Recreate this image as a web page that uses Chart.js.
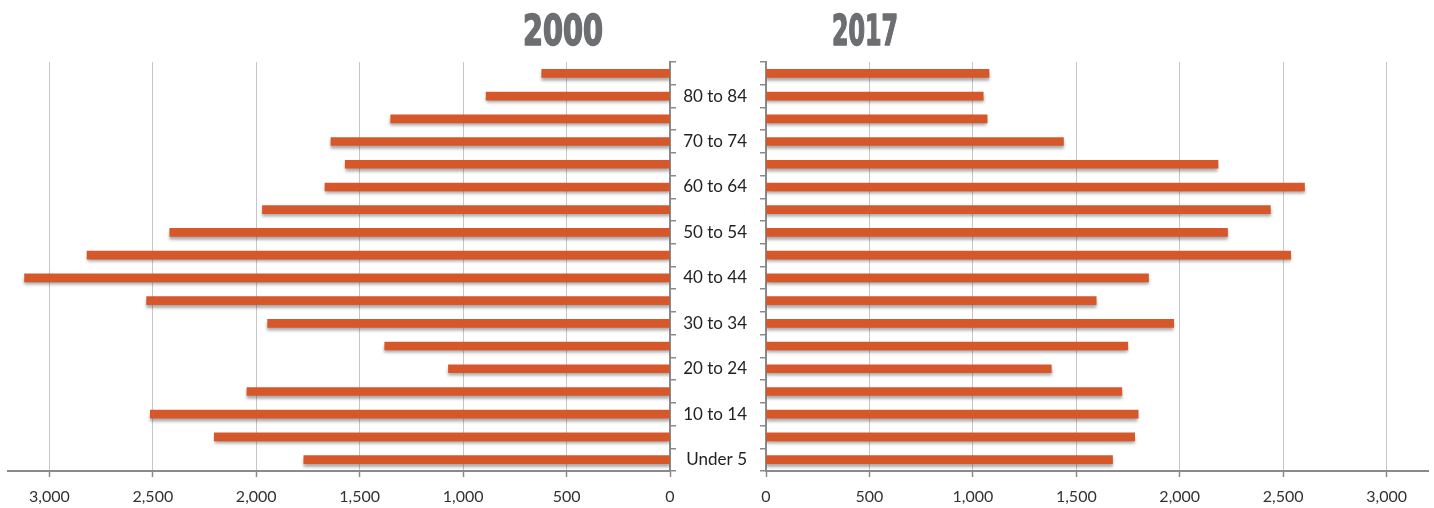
<!DOCTYPE html>
<html><head><meta charset="utf-8">
<script src="https://cdn.jsdelivr.net/npm/chart.js@4.4.0/dist/chart.umd.min.js"></script>
<style>
html,body{margin:0;padding:0;background:#fff;}
#wrap{position:relative;width:1434px;height:508px;overflow:hidden;background:#fff;}
.box{position:absolute;top:0;height:508px;}
</style></head><body>
<div id="wrap">
  <div class="box" style="left:0;width:680px"><canvas id="c1"></canvas></div>
  <div class="box" style="left:680px;width:754px"><canvas id="c2"></canvas></div>
</div>
<script>
// Age groups, bottom (youngest) to top (oldest)
const ageGroups = ['Under 5','5 to 9','10 to 14','15 to 19','20 to 24','25 to 29','30 to 34','35 to 39','40 to 44','45 to 49','50 to 54','55 to 59','60 to 64','65 to 69','70 to 74','75 to 79','80 to 84','85 and over'];
const values2000 = [1770,2203,2512,2045,1071,1379,1945,2530,3120,2818,2418,1970,1668,1570,1639,1350,889,620];
const values2017 = [1675,1782,1799,1720,1379,1749,1971,1596,1849,2536,2231,2438,2603,2185,1438,1069,1050,1078];
const xTickValues = [0,500,1000,1500,2000,2500,3000];
const titleLeft = '2000';
const titleRight = '2017';

const BAR = '#d5572a';
const AXIS = '#8a8a8a';
const GRID = '#c6c6c6';
const LABEL_FONT = 'Lato, "Liberation Sans", sans-serif';

function fmt(v){ return v >= 1000 ? Math.floor(v/1000) + ',' + String(v % 1000).padStart(3,'0') : String(v); }

const shadowPlugin = {
  id:'barShadow',
  beforeDatasetsDraw(chart){ const c = chart.ctx; c.save(); c.shadowColor='rgba(70,70,70,0.45)'; c.shadowBlur=3; c.shadowOffsetX=0; c.shadowOffsetY=3; },
  afterDatasetsDraw(chart){ chart.ctx.restore(); }
};

function titlePlugin(text, x, targetW){
  return {
    id:'bigTitle',
    afterDraw(chart){
      const c = chart.ctx; c.save();
      c.font = 'bold 42px "Liberation Sans Narrow", "DejaVu Sans Condensed", "Liberation Sans", sans-serif';
      c.fillStyle = '#6d6e71'; c.strokeStyle = '#6d6e71'; c.lineWidth = 1.6; c.lineJoin = 'round';
      c.textBaseline = 'alphabetic'; c.textAlign = 'left';
      const w = c.measureText(text).width;
      const sx = targetW / w;
      c.translate(x, 45); c.scale(sx, 1);
      c.fillText(text, 0, 0);
      c.strokeText(text, 0, 0);
      c.restore();
    }
  };
}

function makeChart(id, values, isLeft, title, titleX, titleW){
  return new Chart(document.getElementById(id), {
    type:'bar',
    data:{ labels: ageGroups, datasets:[{ data: values, backgroundColor: BAR, borderWidth:0, barThickness:8 }] },
    plugins:[shadowPlugin, titlePlugin(title, titleX, titleW)],
    options:{
      indexAxis:'y', responsive:true, maintainAspectRatio:false, animation:false,
      layout:{ padding:{ left: isLeft ? 8 : 0, right: isLeft ? 0 : 6, top:62, bottom:0 } },
      plugins:{ legend:{display:false}, tooltip:{enabled:false}, title:{display:false} },
      scales:{
        x:{
          type:'linear', min:0, max:3200, reverse:isLeft,
          afterBuildTicks: s => { s.ticks = xTickValues.map(v => ({value:v})); },
          ticks:{ callback: v => fmt(v), font:{family:LABEL_FONT, size:16}, color:'#333', padding:10, maxRotation:0, autoSkip:false },
          grid:{ color: ctx => (ctx.tick && ctx.tick.value === 0) ? 'rgba(0,0,0,0)' : GRID, lineWidth:1, tickLength:6, tickColor:AXIS, drawTicks:true, tickWidth:1.5 },
          border:{ display:true, color:AXIS, width:2 },
          afterFit: s => { s.height = 37; }
        },
        y:{
          type:'category', reverse:true, position: isLeft ? 'right' : 'left',
          grid:{ drawOnChartArea:false, drawTicks:true, tickLength:6, color:AXIS, offset:true, lineWidth:1.5 },
          border:{ display:true, color:AXIS, width:2 },
          ticks:{ display:!isLeft, autoSkip:false, callback:(v,i) => i % 2 === 0 ? ageGroups[i] : '', font:{family:LABEL_FONT, size:17}, color:'#222', padding:13 },
          afterFit: s => { s.width = isLeft ? 10 : 86; }
        }
      }
    }
  });
}

makeChart('c1', values2000, true, titleLeft, 523, 80);
makeChart('c2', values2017, false, titleRight, 152, 66);
</script>
</body></html>
